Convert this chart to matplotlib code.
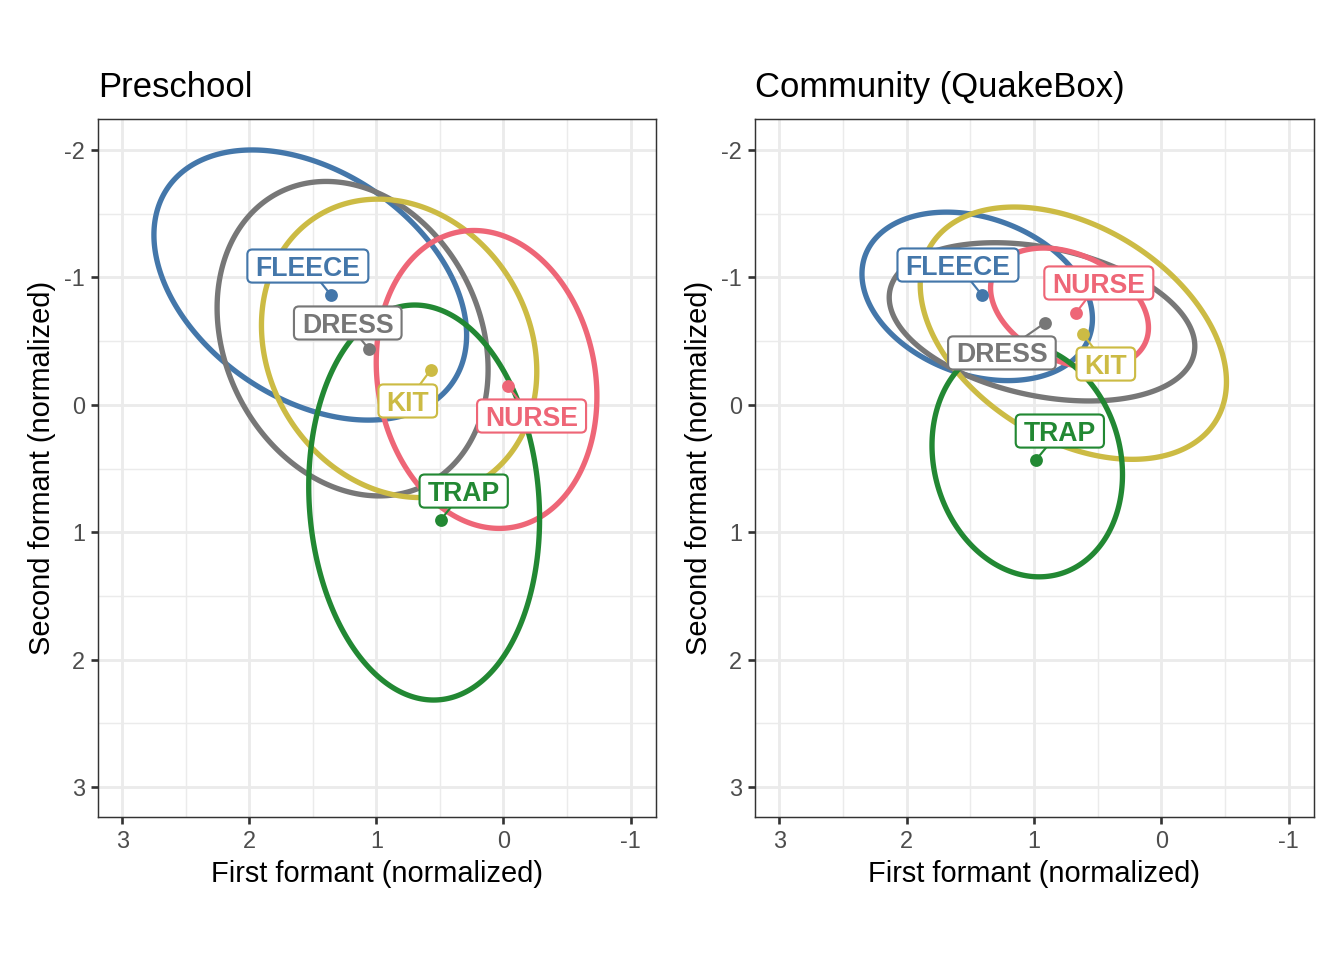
import numpy as np
import matplotlib
matplotlib.use("Agg")
import matplotlib.pyplot as plt
from matplotlib.patches import FancyBboxPatch
from matplotlib.transforms import ScaledTranslation, IdentityTransform

plt.rcParams['font.family'] = ['Liberation Sans', 'DejaVu Sans']
plt.rcParams['axes.unicode_minus'] = False

# ---------------- data ----------------
vowels = ["FLEECE", "DRESS", "KIT", "NURSE", "TRAP"]
colors = ["#4477AA", "#777777", "#CCBB44", "#EE6677", "#228833"]
panel_titles = ["Preschool", "Community (QuakeBox)"]

x_ticks = [3, 2, 1, 0, -1]
y_ticks = [-2, -1, 0, 1, 2, 3]

# Preschool: ellipse centre, half-extents and correlation; vowel means; label positions
pre_ell_cx = [1.52, 1.187, 0.821, 0.133, 0.624]
pre_ell_cy = [-0.94, -0.519, -0.443, -0.199, 0.767]
pre_ell_hx = [1.23, 1.066, 1.083, 0.868, 0.908]
pre_ell_hy = [1.06, 1.234, 1.171, 1.169, 1.55]
pre_ell_r = [-0.371, -0.195, -0.154, -0.115, -0.082]
pre_mean_x = [1.358, 1.060, 0.573, -0.032, 0.494]
pre_mean_y = [-0.862, -0.438, -0.273, -0.148, 0.904]
pre_lab_x = [1.539, 1.225, 0.753, -0.221, 0.313]
pre_lab_y = [-1.089, -0.642, -0.03, 0.088, 0.677]

# Community (QuakeBox)
com_ell_cx = [1.445, 0.936, 0.69, 0.72, 1.052]
com_ell_cy = [-0.851, -0.651, -0.562, -0.76, 0.433]
com_ell_hx = [0.905, 1.20, 1.2025, 0.62, 0.748]
com_ell_hy = [0.661, 0.621, 0.99, 0.47, 0.917]
com_ell_r = [-0.266, -0.308, -0.385, -0.33, -0.125]
com_mean_x = [1.408, 0.914, 0.616, 0.671, 0.984]
com_mean_y = [-0.862, -0.642, -0.556, -0.72, 0.433]
com_lab_x = [1.596, 1.251, 0.435, 0.490, 0.796]
com_lab_y = [-1.097, -0.407, -0.320, -0.956, 0.206]

panels = [
    (pre_ell_cx, pre_ell_cy, pre_ell_hx, pre_ell_hy, pre_ell_r,
     pre_mean_x, pre_mean_y, pre_lab_x, pre_lab_y),
    (com_ell_cx, com_ell_cy, com_ell_hx, com_ell_hy, com_ell_r,
     com_mean_x, com_mean_y, com_lab_x, com_lab_y),
]

# ---------------- figure ----------------
W, H = 1344, 960
fig = plt.figure(figsize=(7, 5), dpi=192)
positions = [
    [98 / W, 1 - 817 / H, 558 / W, 698 / H],
    [755 / W, 1 - 817 / H, 559 / W, 698 / H],
]

label_fs = 10.0
cap_pt = 0.716 * label_fs
t = np.linspace(0, 2 * np.pi, 400, endpoint=False)

axes = []
for pos, title, data in zip(positions, panel_titles, panels):
    cx, cy, hx, hy, rr, mx, my, lx, ly = data
    ax = fig.add_axes(pos)
    axes.append(ax)
    ax.set_xlim(3.19, -1.2)
    ax.set_ylim(3.235, -2.243)
    ax.set_autoscale_on(False)
    ax.set_xticks(x_ticks)
    ax.set_xticklabels([str(v) for v in x_ticks])
    ax.set_yticks(y_ticks)
    ax.set_yticklabels([str(v) for v in y_ticks])
    ax.set_xticks([2.5, 1.5, 0.5, -0.5], minor=True)
    ax.set_yticks([-1.5, -0.5, 0.5, 1.5, 2.5], minor=True)
    ax.set_axisbelow(True)
    ax.grid(which='major', color='#EBEBEB', lw=1.07)
    ax.grid(which='minor', color='#EBEBEB', lw=0.53)
    ax.tick_params(which='minor', length=0)
    ax.tick_params(which='major', length=2.75, width=1.0, color='#333333',
                   labelcolor='#4D4D4D', labelsize=8.8, pad=2.2)
    for sp in ax.spines.values():
        sp.set_color('#333333')
        sp.set_linewidth(0.55)
    ax.set_title(title, loc='left', fontsize=13.0, pad=8.25, color='black')
    ax.set_xlabel("First formant (normalized)", fontsize=10.9, labelpad=2.5)
    ax.set_ylabel("Second formant (normalized)", fontsize=10.9, labelpad=3.0)

    for i in range(len(vowels)):
        ex = cx[i] + hx[i] * np.cos(t)
        ey = cy[i] + hy[i] * (rr[i] * np.cos(t) + np.sqrt(1 - rr[i] ** 2) * np.sin(t))
        ax.fill(ex, ey, fill=False, edgecolor=colors[i], lw=2.0, zorder=2,
                joinstyle='round')
    for i in range(len(vowels)):
        ax.plot([mx[i], lx[i]], [my[i], ly[i]], color=colors[i], lw=0.8, zorder=3)
        ax.plot(mx[i], my[i], 'o', ms=3.8, color=colors[i], zorder=4)

renderer = fig.canvas.get_renderer()
for ax, data in zip(axes, panels):
    cx, cy, hx, hy, rr, mx, my, lx, ly = data
    for i, v in enumerate(vowels):
        tr = ax.transData + ScaledTranslation(0, -cap_pt / 2 / 72, fig.dpi_scale_trans)
        txt = ax.text(lx[i], ly[i], v, transform=tr, ha='center', va='baseline',
                      fontsize=label_fs, fontweight='bold', color=colors[i], zorder=6)
        w = txt.get_window_extent(renderer).width
        px, py = ax.transData.transform((lx[i], ly[i]))
        padx = 8.0
        pady = 7.0
        cap_px = cap_pt / 72 * fig.dpi
        bw = w + 2 * padx
        bh = cap_px + 2 * pady
        box = FancyBboxPatch((px - bw / 2, py - bh / 2), bw, bh,
                             boxstyle="round,pad=0,rounding_size=5",
                             transform=IdentityTransform(), fc='white',
                             ec=colors[i], lw=0.8, zorder=5)
        ax.add_artist(box)

fig.savefig("out.png", dpi=192)
